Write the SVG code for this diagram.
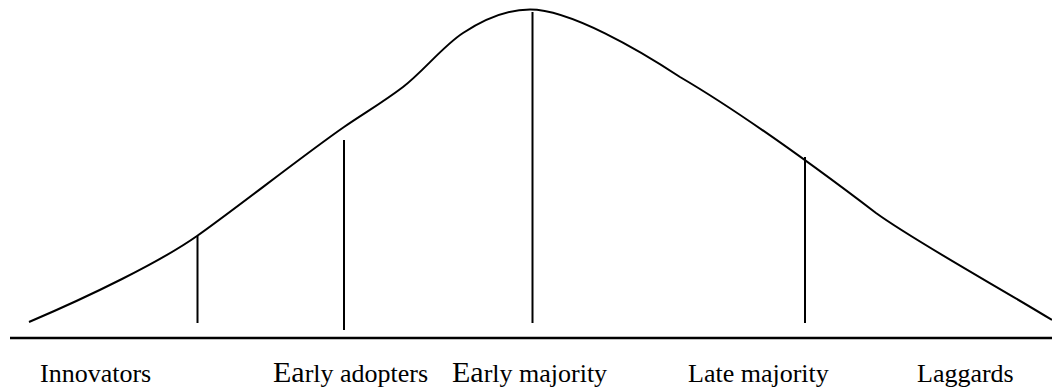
<svg xmlns="http://www.w3.org/2000/svg" width="1052" height="389" viewBox="0 0 1052 389">
<style>
.ln{stroke:#000;stroke-width:2;fill:none}
.base{stroke:#000;stroke-width:2.5}
.lbl{font-family:"Liberation Serif","Times New Roman",serif;font-size:26px;fill:#000}
.big{font-size:30px}
</style>
<rect width="1052" height="389" fill="#fff"/>
<g id="curve">
<path class="ln" d="M29,322 C90,296 160,262 197,236 C232,211.5 305,154 344,127 C363.7,113.4 383.3,102.1 403,87 C423,71.7 443,46 463,33 C485.3,18.5 508,9.5 530,9.5 C570,9.5 640,50.6 680,77 C745,115 830,178 876,213 C916,242 1000,288 1052,320"/>
</g>
<g id="axis">
<line class="base" x1="10" y1="338" x2="1052" y2="338"/>
</g>
<g id="connectors">
<line class="ln" x1="197.5" y1="236" x2="197.5" y2="323"/>
<line class="ln" x1="344" y1="140" x2="344" y2="330"/>
<line class="ln" x1="532.5" y1="12" x2="532.5" y2="323"/>
<line class="ln" x1="805" y1="157" x2="805" y2="323"/>
</g>
<g id="innovators"><text class="lbl" x="40" y="382">Innovators</text></g>
<g id="early-adopters"><text class="lbl" x="273" y="382"><tspan class="big">Ea</tspan>rly adopters</text></g>
<g id="early-majority"><text class="lbl" x="452" y="382"><tspan class="big">Ea</tspan>rly majority</text></g>
<g id="late-majority"><text class="lbl" x="688" y="382">Late majority</text></g>
<g id="laggards"><text class="lbl" x="917" y="382">Laggards</text></g>
</svg>
